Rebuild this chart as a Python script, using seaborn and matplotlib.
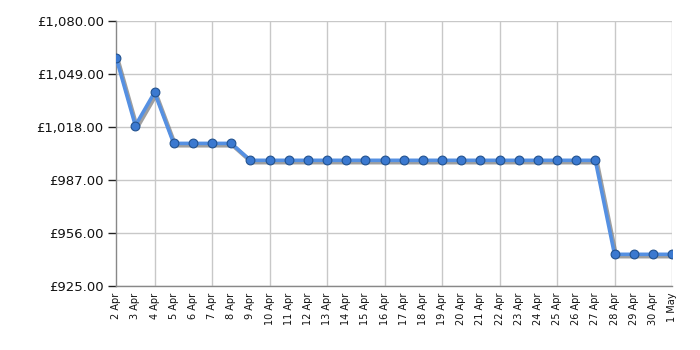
import matplotlib
matplotlib.use("Agg")
import matplotlib.pyplot as plt
import matplotlib.patheffects as pe
import seaborn as sns
import pandas as pd
import numpy as np

dates = ["2 Apr", "3 Apr", "4 Apr", "5 Apr", "6 Apr", "7 Apr", "8 Apr", "9 Apr", "10 Apr",
         "11 Apr", "12 Apr", "13 Apr", "14 Apr", "15 Apr", "16 Apr", "17 Apr", "18 Apr",
         "19 Apr", "20 Apr", "21 Apr", "22 Apr", "23 Apr", "24 Apr", "25 Apr", "26 Apr",
         "27 Apr", "28 Apr", "29 Apr", "30 Apr", "1 May"]
prices = [1058.4, 1018.8, 1038.2, 1008.4, 1008.4, 1008.4, 1008.4, 998.5, 998.5,
          998.5, 998.5, 998.5, 998.5, 998.5, 998.5, 998.5, 998.5,
          998.5, 998.5, 998.5, 998.5, 998.5, 998.5, 998.5, 998.5,
          998.5, 943.5, 943.5, 943.5, 943.5]
y_ticks = [925, 956, 987, 1018, 1049, 1080]

sns.set_style("white", {"xtick.bottom": True, "ytick.left": True})
plt.rcParams['font.family'] = ['DejaVu Sans']

df = pd.DataFrame({"idx": np.arange(len(dates)), "price": prices})

fig = plt.figure(figsize=(7, 3.5), dpi=100)
ax = fig.add_axes([0.166, 0.183, 0.794, 0.757])

sns.lineplot(data=df, x="idx", y="price", ax=ax, color="#5590e2", linewidth=2.6, zorder=3)
ax.lines[-1].set_path_effects([
    pe.SimpleLineShadow(offset=(1.2, -1.5), shadow_color="#777777", alpha=0.7, linewidth=3),
    pe.Normal()])
sns.scatterplot(data=df, x="idx", y="price", ax=ax, s=40, color="#3b79d0",
                edgecolor="#22528f", linewidth=0.8, zorder=4)

ax.set_xlabel("")
ax.set_ylabel("")
ax.set_xlim(0, len(dates) - 1)
ax.set_ylim(925, 1080)
ax.set_yticks(y_ticks)
ax.set_yticklabels([f"£{v:,.2f}" for v in y_ticks], fontsize=9.5, color="#111111")

major = [i for i in range(len(dates)) if i % 3 == 2 or i == len(dates) - 1]
ax.set_xticks(range(len(dates)))
ax.set_xticklabels(dates, rotation=90, fontsize=7, color="#111111")
ax.set_xticks(major, minor=True)
ax.tick_params(axis="x", which="major", bottom=True, length=0, pad=5)
ax.tick_params(axis="x", which="minor", bottom=True, length=5, color="#222222", width=1)
ax.tick_params(axis="y", which="major", left=True, length=6, color="#222222", width=1, pad=3)

ax.grid(False)
for m in major:
    ax.axvline(m, color="#c8c8c8", linewidth=1, zorder=0)
for v in y_ticks:
    ax.axhline(v, color="#c8c8c8", linewidth=1, zorder=0)

for s in ["top", "right"]:
    ax.spines[s].set_visible(False)
for s in ["left", "bottom"]:
    ax.spines[s].set_color("#888888")
    ax.spines[s].set_linewidth(1)

fig.savefig("out.png", dpi=100)
